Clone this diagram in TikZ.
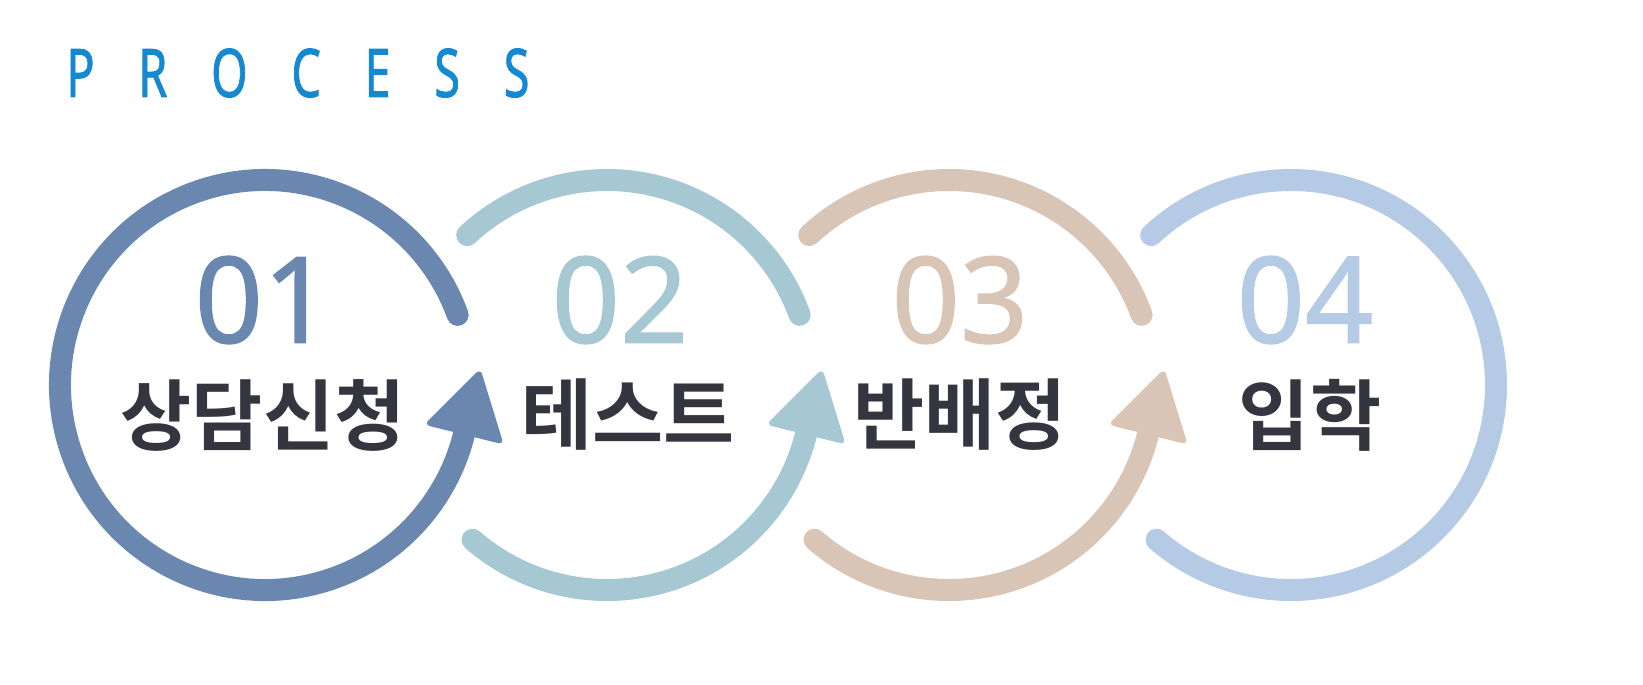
\documentclass[tikz,border=0pt]{standalone}
\usepackage{fontspec}
\usetikzlibrary{calc}
\newfontfamily\kr{Noto Sans CJK KR}[BoldFont={* Bold}]
\newfontfamily\num{Noto Sans}[FakeBold=1.2]
\newfontfamily\ttl{Noto Sans}[FakeBold=1.5]
\definecolor{cA}{HTML}{6A87AF}
\definecolor{cB}{HTML}{A5C8D2}
\definecolor{cC}{HTML}{D9C5B5}
\definecolor{cD}{HTML}{B5CAE5}
\definecolor{tx}{HTML}{353540}
\definecolor{pc}{HTML}{1488D0}
\begin{document}
\begin{tikzpicture}[x=0.02cm,y=0.02cm,
  ring/.style={line width=0.44cm,line cap=round},
  headtri/.style={rounded corners=0.12cm},
  numlbl/.style={font=\num\fontsize{68}{68}\selectfont},
  krlbl/.style={font=\kr\bfseries\fontsize{44}{44}\selectfont,text=tx}]
\useasboundingbox (0,0) rectangle (1643,684);
\node[font=\ttl\fontsize{38}{38}\selectfont,text=pc,xscale=0.7,anchor=west] (title) at (62,611)
  {P\hspace{1.25cm}R\hspace{1.25cm}O\hspace{1.25cm}C\hspace{1.25cm}E\hspace{1.25cm}S\hspace{1.25cm}S};
% ring 1
\coordinate (c1) at (265,299);
\draw[ring,cA] ($(c1)+(20:205)$) arc (20:346:205);
% rings 2,3 top and bottom
\foreach \cx/\col in {607/cB,949/cC}{
  \draw[ring,\col] ($(\cx,299)+(133:205)$) arc (133:20:205);
  \draw[ring,\col] ($(\cx,299)+(-131:205)$) arc (-131:-14:205);
}
\draw[ring,cD] ($(1291,299)+(133:205)$) arc (133:-131:205);
% arrowheads
\foreach \cx/\col in {265/cA,607/cB,949/cC}{
  \begin{scope}[shift={($(\cx,299)+(-14:205)$)},rotate=76]
    \fill[\col,headtri] (0,-41) -- (0,41) -- (68,0) -- cycle;
  \end{scope}
}
\node[numlbl,text=cA] (n1) at (263,384) {01};
\node[numlbl,text=cB] (n2) at (620,384) {02};
\node[numlbl,text=cC] (n3) at (960,384) {03};
\node[numlbl,text=cD] (n4) at (1305,384) {04};
\node[krlbl] (k1) at (263,269) {상담신청};
\node[krlbl] (k2) at (628,269) {테스트};
\node[krlbl] (k3) at (960,269) {반배정};
\node[krlbl] (k4) at (1310,269) {입학};
\end{tikzpicture}
\end{document}
